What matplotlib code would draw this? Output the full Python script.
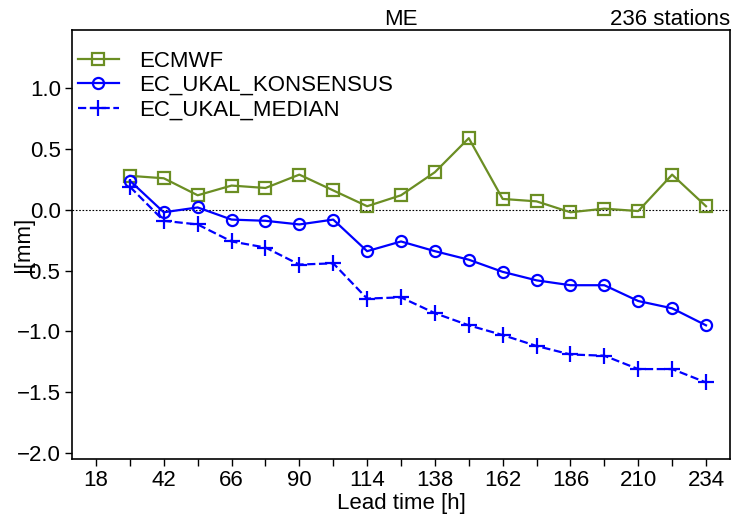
import matplotlib
matplotlib.use("Agg")
import matplotlib.pyplot as plt
from matplotlib.ticker import FixedLocator

plt.rcParams['font.family'] = ['Liberation Sans', 'DejaVu Sans']

lead_time = [30, 42, 54, 66, 78, 90, 102, 114, 126, 138, 150, 162, 174, 186, 198, 210, 222, 234]
ecmwf = [0.28, 0.26, 0.12, 0.20, 0.18, 0.29, 0.16, 0.03, 0.12, 0.31, 0.59, 0.09, 0.07, -0.02, 0.01, -0.01, 0.29, 0.03]
konsensus = [0.24, -0.02, 0.02, -0.08, -0.09, -0.12, -0.08, -0.34, -0.26, -0.34, -0.41, -0.51, -0.58, -0.62, -0.62, -0.75, -0.81, -0.95]
median = [0.19, -0.09, -0.12, -0.26, -0.31, -0.45, -0.44, -0.73, -0.72, -0.85, -0.95, -1.03, -1.12, -1.19, -1.20, -1.31, -1.31, -1.42]
xticks = [18, 42, 66, 90, 114, 138, 162, 186, 210, 234]
xminor = [30, 54, 78, 102, 126, 150, 174, 198, 222]
yticks = [-2.0, -1.5, -1.0, -0.5, 0.0, 0.5, 1.0]

fig = plt.figure(figsize=(7.32, 5.2), dpi=100)
ax = fig.add_axes([72/732, 1 - 459/520, (730-72)/732, (459-30)/520])

ax.axhline(0, color='black', lw=0.8, ls=(0, (1.5, 1.5)), zorder=1)
ax.plot(lead_time, ecmwf, color='#6b8e23', lw=1.6, marker='s', ms=8, mfc='none', mew=1.6, label='ECMWF')
ax.plot(lead_time, konsensus, color='#0000ff', lw=1.6, marker='o', ms=8, mfc='none', mew=1.6, label='EC_UKAL_KONSENSUS')
ax.plot(lead_time, median, color='#0000ff', lw=1.6, ls='--', marker='+', ms=12, mew=1.6, label='EC_UKAL_MEDIAN')

ax.set_xlim(9.5, 242.5)
ax.set_ylim(-2.05, 1.48)
ax.set_xticks(xticks)
ax.xaxis.set_minor_locator(FixedLocator(xminor))
ax.set_yticks(yticks)
ax.set_yticklabels([f"{v:.1f}".replace('-', '\u2212') for v in yticks])
ax.tick_params(axis='both', which='major', direction='out', length=5, width=1, labelsize=16, pad=3)
ax.tick_params(axis='x', which='minor', direction='out', length=5, width=1)
for s in ax.spines.values():
    s.set_linewidth(1.2)

ax.set_xlabel('Lead time [h]', fontsize=16, labelpad=1)
ax.set_ylabel('|[mm]', fontsize=16, labelpad=-12)
ax.set_title('ME', fontsize=16, pad=2)
ax.set_title('236 stations', fontsize=16, loc='right', pad=2)

ax.legend(loc='upper left', bbox_to_anchor=(0.002, 0.962), frameon=False, fontsize=16,
          handlelength=1.85, borderpad=0.2, borderaxespad=0.0, labelspacing=0.15, handletextpad=0.9)

fig.savefig('out.png', dpi=100)
